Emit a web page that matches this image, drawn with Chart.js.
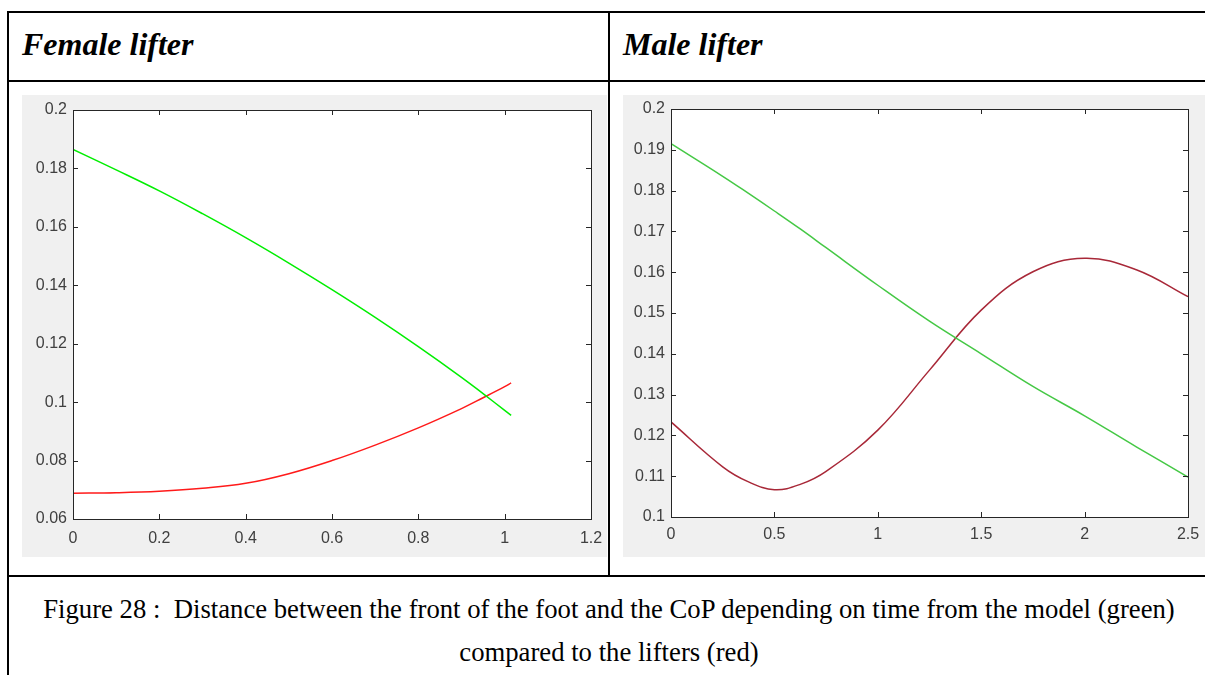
<!DOCTYPE html>
<html>
<head>
<meta charset="utf-8">
<script src="https://cdn.jsdelivr.net/npm/chart.js@4.4.1/dist/chart.umd.min.js"></script>
<style>
    html, body { margin: 0; padding: 0; background: #fff; width: 1205px; height: 675px; overflow: hidden; position: relative; }
    .rule { position: absolute; background: #000; }
    .head { position: absolute; top: 28px; white-space: nowrap; font: italic bold 32px/1 "Liberation Serif", "Times New Roman", serif; color: #000; }
    .panel { position: absolute; top: 95px; background: #f0f0f0; }
    .caption { position: absolute; left: 9px; width: 1200px; text-align: center; white-space: nowrap; font: 26.7px/1 "Liberation Serif", "Times New Roman", serif; color: #000; }
</style>
</head>
<body>
<div class="rule" style="left:7px; top:11px; width:1198px; height:2px"></div>
<div class="rule" style="left:7px; top:80px; width:1198px; height:2px"></div>
<div class="rule" style="left:7px; top:575px; width:1198px; height:2px"></div>
<div class="rule" style="left:7px; top:11px; width:2px; height:664px"></div>
<div class="rule" style="left:608px; top:11px; width:2px; height:566px"></div>

<div class="head" style="left:22px">Female lifter</div>
<div class="head" style="left:623px">Male lifter</div>

<canvas id="femaleChart" class="panel" style="left:22px" width="585" height="462"></canvas>
<canvas id="maleChart" class="panel" style="left:623px" width="582" height="462"></canvas>

<div class="caption" style="top:596px">Figure 28 :&nbsp; Distance between the front of the foot and the CoP depending on time from the model (green)</div>
<div class="caption" style="top:639px">compared to the lifters (red)</div>

<script>
// Female lifter
const femaleTime = [0, 0.1, 0.2, 0.3, 0.4, 0.5, 0.6, 0.7, 0.8, 0.9, 0.95, 1.0, 1.015];
const femaleModel = [0.1865, 0.1795, 0.1723, 0.1645, 0.1563, 0.1476, 0.1385, 0.1290, 0.1190, 0.1085, 0.1029, 0.0972, 0.0955];
const femaleLifter = [0.0688, 0.0690, 0.0695, 0.0705, 0.0722, 0.0755, 0.0800, 0.0853, 0.0912, 0.0978, 0.1015, 0.1053, 0.1066];

// Male lifter
const maleTime = [0, 0.25, 0.375, 0.5, 0.625, 0.75, 1.0, 1.25, 1.5, 1.75, 2.0, 2.25, 2.5];
const maleModel = [0.1915, 0.1835, 0.1793, 0.1750, 0.1706, 0.1660, 0.1568, 0.1480, 0.1400, 0.1320, 0.1248, 0.1172, 0.1098];
const maleLifter = [0.1233, 0.1123, 0.1086, 0.1067, 0.1080, 0.1112, 0.1213, 0.1360, 0.1507, 0.1601, 0.1634, 0.1606, 0.1540];

const axisColor = '#262626';
const labelColor = '#404040';
const tickLen = 5;

// white plot area on the grey figure background
const plotBackground = {
    id: 'plotBackground',
    beforeDraw(chart) {
        const { ctx, chartArea: a } = chart;
        ctx.save();
        ctx.fillStyle = '#ffffff';
        ctx.fillRect(a.left, a.top, a.right - a.left, a.bottom - a.top);
        ctx.restore();
    }
};

// MATLAB style box with inward ticks on all four sides
const matlabBox = {
    id: 'matlabBox',
    afterDatasetsDraw(chart) {
        const { ctx, chartArea: a, scales } = chart;
        ctx.save();
        ctx.strokeStyle = axisColor;
        ctx.lineWidth = 1;
        ctx.beginPath();
        scales.x.ticks.forEach(t => {
            const px = Math.round(scales.x.getPixelForValue(t.value)) + 0.5;
            ctx.moveTo(px, a.bottom); ctx.lineTo(px, a.bottom - tickLen);
            ctx.moveTo(px, a.top); ctx.lineTo(px, a.top + tickLen);
        });
        scales.y.ticks.forEach(t => {
            const py = Math.round(scales.y.getPixelForValue(t.value)) + 0.5;
            ctx.moveTo(a.left, py); ctx.lineTo(a.left + tickLen, py);
            ctx.moveTo(a.right, py); ctx.lineTo(a.right - tickLen, py);
        });
        ctx.stroke();
        ctx.strokeRect(Math.round(a.left) + 0.5, Math.round(a.top) + 0.5,
                       Math.round(a.right - a.left), Math.round(a.bottom - a.top));
        ctx.restore();
    }
};

function toPoints(xs, ys) {
    return xs.map((x, i) => ({ x: x, y: ys[i] }));
}

function makeChart(id, time, model, lifter, cfg) {
    const ctx = document.getElementById(id).getContext('2d');
    return new Chart(ctx, {
        type: 'line',
        data: {
            datasets: [
                {
                    label: 'Model',
                    data: toPoints(time, model),
                    borderColor: cfg.green,
                    borderWidth: 1.5,
                    pointRadius: 0,
                    tension: 0.4
                },
                {
                    label: 'Lifter',
                    data: toPoints(time, lifter),
                    borderColor: cfg.red,
                    borderWidth: 1.5,
                    pointRadius: 0,
                    tension: 0.4
                }
            ]
        },
        options: {
            responsive: false,
            animation: false,
            events: [],
            layout: {
                padding: { top: cfg.padTop, right: cfg.padRight, left: 0, bottom: 0 }
            },
            plugins: {
                legend: { display: false },
                tooltip: { enabled: false }
            },
            scales: {
                x: {
                    type: 'linear',
                    min: cfg.xMin,
                    max: cfg.xMax,
                    grid: { display: false, drawTicks: false },
                    border: { display: false },
                    afterFit: (s) => {
                        s.height = cfg.xHeight;
                        s.paddingLeft = 0;
                        s.paddingRight = 0;
                    },
                    ticks: {
                        stepSize: cfg.xStep,
                        padding: cfg.xPad,
                        maxRotation: 0,
                        color: labelColor,
                        font: { family: '"Liberation Sans", Arial, sans-serif', size: 16 },
                        callback: (v) => String(+v.toFixed(2))
                    }
                },
                y: {
                    type: 'linear',
                    min: cfg.yMin,
                    max: cfg.yMax,
                    grid: { display: false, drawTicks: false },
                    border: { display: false },
                    afterFit: (s) => {
                        s.width = cfg.yWidth;
                        s.paddingTop = 0;
                        s.paddingBottom = 0;
                    },
                    ticks: {
                        stepSize: cfg.yStep,
                        padding: 6,
                        color: labelColor,
                        font: { family: '"Liberation Sans", Arial, sans-serif', size: 16 },
                        callback: (v) => String(+v.toFixed(2))
                    }
                }
            }
        },
        plugins: [plotBackground, matlabBox]
    });
}

makeChart('femaleChart', femaleTime, femaleModel, femaleLifter, {
    green: '#00ee00', red: '#ff1a1a',
    xMin: 0, xMax: 1.2, xStep: 0.2,
    yMin: 0.06, yMax: 0.2, yStep: 0.02,
    padTop: 15, padRight: 16, xHeight: 38, yWidth: 51, xPad: 10
});

makeChart('maleChart', maleTime, maleModel, maleLifter, {
    green: '#45c845', red: '#a82838',
    xMin: 0, xMax: 2.5, xStep: 0.5,
    yMin: 0.1, yMax: 0.2, yStep: 0.01,
    padTop: 14, padRight: 17, xHeight: 40, yWidth: 48, xPad: 8
});
</script>
</body>
</html>
